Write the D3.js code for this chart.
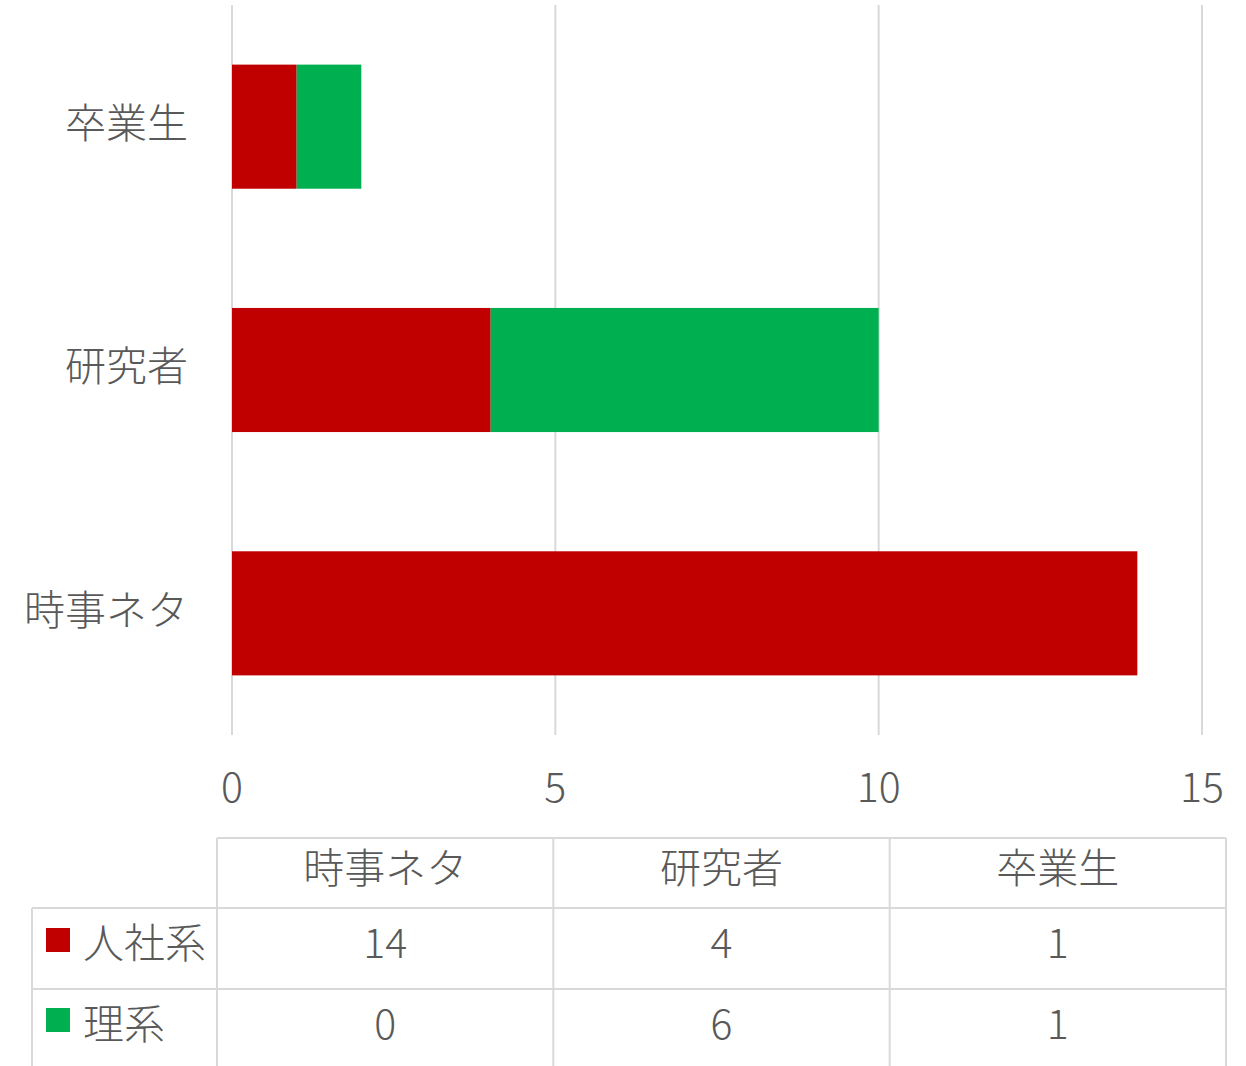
<!DOCTYPE html>
<html>
<head>
<meta charset="utf-8">
<script src="https://cdn.jsdelivr.net/npm/d3@7"></script>
<style>
  body { margin: 0; background: #fff; }
  svg text { font-family: "Noto Sans CJK JP", "Noto Sans", sans-serif; font-weight: 300; fill: #595959; }
</style>
</head>
<body>
<div id="chart"></div>
<script>
var categories = ["時事ネタ", "研究者", "卒業生"];
var seriesNames = ["人社系", "理系"];
var jinsha = [14, 4, 1];
var rikei = [0, 6, 1];
var colors = ["#c00000", "#00b050"];
var xTicks = [0, 5, 10, 15];

var width = 1246, height = 1066;
var gridColor = "#d9d9d9";
var fontSize = 41;

var svg = d3.select("#chart").append("svg")
  .attr("width", width)
  .attr("height", height);

var x = d3.scaleLinear().domain([0, 15]).range([232, 1202]);
var y = d3.scaleBand()
  .domain(categories.slice().reverse())
  .range([5, 735])
  .paddingInner(0.49)
  .paddingOuter(0.245);

// gridlines
svg.append("g").selectAll("line")
  .data(xTicks)
  .enter().append("line")
  .attr("x1", function (d) { return x(d); })
  .attr("x2", function (d) { return x(d); })
  .attr("y1", 5)
  .attr("y2", 735)
  .style("stroke", gridColor)
  .style("stroke-width", 2);

// stacked bars
var rows = categories.map(function (c, i) {
  return { cat: c, "人社系": jinsha[i], "理系": rikei[i] };
});
var stacked = d3.stack().keys(seriesNames)(rows);

svg.append("g").selectAll("g")
  .data(stacked)
  .enter().append("g")
  .style("fill", function (d, i) { return colors[i]; })
  .selectAll("rect")
  .data(function (d) { return d.filter(function (p) { return p[1] > p[0]; }); })
  .enter().append("rect")
  .attr("x", function (d) { return x(d[0]); })
  .attr("width", function (d) { return x(d[1]) - x(d[0]); })
  .attr("y", function (d) { return y(d.data.cat); })
  .attr("height", y.bandwidth());

// category labels
svg.append("g").selectAll("text")
  .data(categories)
  .enter().append("text")
  .attr("x", 188)
  .attr("y", function (d) { return y(d) + y.bandwidth() / 2 - 3; })
  .attr("dy", "0.35em")
  .attr("text-anchor", "end")
  .style("font-size", fontSize + "px")
  .text(function (d) { return d; });

// x tick labels
svg.append("g").selectAll("text")
  .data(xTicks)
  .enter().append("text")
  .attr("x", function (d) { return x(d); })
  .attr("y", 788)
  .attr("dy", "0.35em")
  .attr("text-anchor", "middle")
  .style("font-size", fontSize + "px")
  .text(function (d) { return d; });

// data table
var col = d3.scaleBand().domain(categories).range([217, 1226]);
var rowTop = [838, 908, 989];
var rowBottom = 1070;
var tbl = svg.append("g");

function hline(x1, x2, yy) {
  tbl.append("line").attr("x1", x1).attr("x2", x2).attr("y1", yy).attr("y2", yy)
    .style("stroke", gridColor).style("stroke-width", 2);
}
function vline(xx, y1, y2) {
  tbl.append("line").attr("x1", xx).attr("x2", xx).attr("y1", y1).attr("y2", y2)
    .style("stroke", gridColor).style("stroke-width", 2);
}

hline(217, 1226, rowTop[0]);
hline(32, 1226, rowTop[1]);
hline(32, 1226, rowTop[2]);
vline(32, rowTop[1], rowBottom);
categories.forEach(function (c) { vline(col(c), rowTop[0], rowBottom); });
vline(1226, rowTop[0], rowBottom);

// header
tbl.selectAll("text.head")
  .data(categories)
  .enter().append("text")
  .attr("class", "head")
  .attr("x", function (d) { return col(d) + col.bandwidth() / 2; })
  .attr("y", 869)
  .attr("dy", "0.35em")
  .attr("text-anchor", "middle")
  .style("font-size", fontSize + "px")
  .text(function (d) { return d; });

var seriesVals = [jinsha, rikei];
var rowMid = [944, 1025];
var boxMid = [940, 1020];

seriesNames.forEach(function (s, i) {
  tbl.append("rect")
    .attr("x", 46).attr("y", boxMid[i] - 12)
    .attr("width", 24).attr("height", 24)
    .style("fill", colors[i]);
  tbl.append("text")
    .attr("x", 83).attr("y", rowMid[i])
    .attr("dy", "0.35em")
    .style("font-size", fontSize + "px")
    .text(s);
  tbl.selectAll("text.v" + i)
    .data(seriesVals[i])
    .enter().append("text")
    .attr("class", "v" + i)
    .attr("x", function (d, j) { return col(categories[j]) + col.bandwidth() / 2; })
    .attr("y", rowMid[i])
    .attr("dy", "0.35em")
    .attr("text-anchor", "middle")
    .style("font-size", fontSize + "px")
    .text(function (d) { return d; });
});
</script>
</body>
</html>
